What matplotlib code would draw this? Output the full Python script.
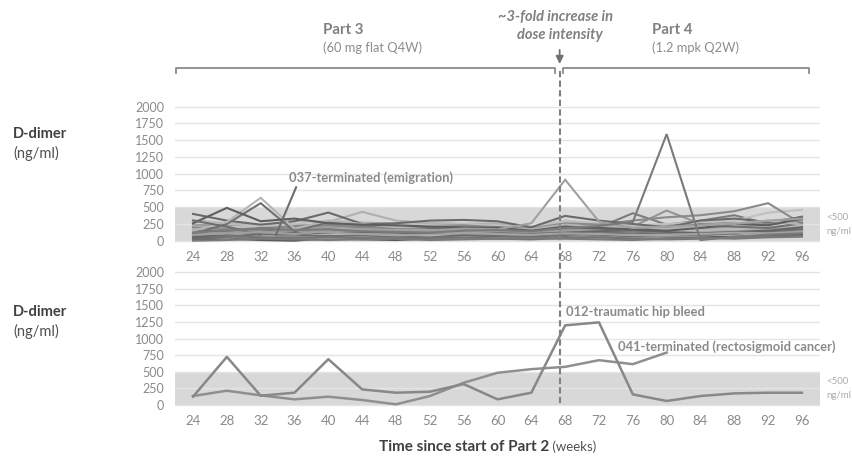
import numpy as np
import matplotlib
matplotlib.use('Agg')
import matplotlib.pyplot as plt
from matplotlib.transforms import blended_transform_factory
from matplotlib.lines import Line2D

plt.rcParams['font.family'] = ['Lato', 'DejaVu Sans']

W, H = 852, 457
nan = np.nan

# Semanas (eixo x)
weeks = [24, 28, 32, 36, 40, 44, 48, 52, 56, 60, 64, 68, 72, 76, 80, 84, 88, 92, 96]
y_ticks = [0, 250, 500, 750, 1000, 1250, 1500, 1750, 2000]
normal_limit = 500

# Painel superior: D-dimer de cada paciente (ng/ml)
p01 = [120, 150, 180, 160, 170, 140, 130, 120, 150, 160, 140, 190, 220, 280, 1590, 10, 60, 90, 110]
p02 = [90, 110, 130, 100, 150, 170, 160, 150, 180, 170, 260, 910, 285, 190, 210, 230, 250, 300, 330]
p03 = [260, 490, 290, 330, 260, 240, 230, 210, 200, 190, 150, 210, 190, 170, 150, 190, 250, 230, 330]
p04 = [150, 280, 640, 180, 300, 250, 200, 220, 200, 180, 170, 240, 200, 210, 180, 220, 260, 300, 240]
p05 = [100, 250, 560, 140, 280, 230, 210, 190, 170, 200, 160, 200, 180, 160, 200, 240, 210, 190, 260]
p06 = [200, 180, 160, 220, 240, 210, 200, 220, 230, 200, 180, 260, 240, 300, 350, 380, 440, 560, 250]
p07 = [180, 200, 220, 250, 300, 280, 240, 230, 250, 220, 200, 300, 260, 230, 250, 280, 300, 420, 460]
p08 = [400, 300, 240, 290, 420, 250, 260, 300, 310, 290, 200, 370, 300, 250, 200, 300, 330, 280, 350]
p09 = [120, 180, 200, 300, 280, 430, 300, 260, 250, 260, 200, 300, 240, 190, 230, 220, 260, 280, 300]
p10 = [140, 160, 190, 210, 230, 200, 190, 210, 220, 200, 180, 220, 200, 410, 240, 300, 380, 250, 360]
p11 = [90, 110, 130, 150, 140, 160, 150, 140, 160, 150, 140, 180, 200, 210, 450, 250, 270, 240, 300]
p12 = [20, 30, 10, 0, 40, 20, 10, 30, 40, 60, 50, 70, 90, 60, 40, 50, 60, 80, 90]
p13 = [60, 40, 80, 60, 30, 50, 40, 20, 30, 40, 60, 80, 60, 40, 60, 80, 100, 120, 140]
p14 = [110, 90, 60, 120, 140, 120, 90, 110, 130, 100, 90, 130, 110, 100, 120, 140, 150, 170, 190]
p15 = [30, 60, 100, 90, 70, 80, 60, 50, 80, 70, 60, 90, 110, 120, 100, 90, 110, 140, 170]
p16 = [200, 240, 180, 160, 190, 210, 230, 260, 250, 230, 210, 250, 230, 200, 190, 210, 230, 250, 270]
p17 = [160, 130, 110, 140, 170, 150, 130, 160, 180, 170, 150, 170, 150, 130, 160, 180, 200, 190, 220]
p18 = [240, 220, 200, 180, 200, 190, 170, 150, 140, 130, 120, 150, 170, 190, 210, 230, 200, 180, 210]
p19 = [80, 70, 50, 40, 60, 40, 30, 40, 50, 30, 20, 40, 50, 30, 20, 30, 50, 60, 70]
p20 = [310, 260, 230, 240, 220, 200, 190, 180, 200, 210, 190, 230, 210, 190, 170, 160, 180, 200, 230]
p21 = [50, 100, 150, 130, 110, 130, 120, 100, 90, 110, 100, 120, 140, 160, 130, 110, 130, 150, 200]
p22 = [nan, nan, 200, 150, 120, 100, 80, 90, 110, 100, 90, 110, 100, 80, 90, 100, 120, 110, 130]
p23 = [0, 10, 30, 20, 10, 20, 30, 10, 20, 30, 40, 30, 20, 10, 30, 40, 30, 50, 60]
p037 = [300, 210, 90, nan, nan, nan, nan, nan, nan, nan, nan, nan, nan, nan, nan, nan, nan, nan, nan]

top_series = [p12, p13, p14, p15, p16, p17, p18, p19, p20, p21, p22, p23,
              p09, p10, p11, p07, p06, p08, p05, p04, p03, p037, p02, p01]
top_colors = ['#5a5a5a', '#8f8f8f', '#a8a8a8', '#6e6e6e', '#bdbdbd', '#838383',
              '#9d9d9d', '#747474', '#b8b8b8', '#666666', '#a3a3a3', '#7a7a7a',
              '#b0b0b0', '#7c7c7c', '#959595', '#c0c0c0', '#8a8a8a', '#6a6a6a',
              '#707070', '#b5b5b5', '#5e5e5e', '#6d6d6d', '#a0a0a0', '#7a7a7a']

# Painel inferior: pacientes com eventos
p041 = [135, 215, 145, 85, 125, 75, 10, 135, 335, 485, 540, 575, 675, 615, 790, nan, nan, nan, nan]
p012 = [125, 725, 140, 185, 690, 235, 185, 200, 315, 85, 185, 1200, 1245, 160, 60, 135, 175, 185, 185]

dose_change_week = 67.35


def fy(ypx):
    return 1 - ypx / H


fig = plt.figure(figsize=(W / 100, H / 100), dpi=100)
ax1 = fig.add_axes([175 / W, fy(244.05), 645 / W, 139.35 / H])
ax2 = fig.add_axes([175 / W, fy(408.3), 645 / W, 138.0 / H])

for ax in (ax1, ax2):
    ax.set_xlim(21.87, 98.13)
    ax.set_ylim(-50, 2030)
    ax.axhspan(0, normal_limit, color='#d8d8d8', zorder=0.5, lw=0)
    for yv in y_ticks:
        ax.axhline(yv, color='#e4e4e4', lw=1, zorder=1)
    for s in ax.spines.values():
        s.set_visible(False)
    ax.set_xticks(weeks)
    ax.set_yticks(y_ticks)
    ax.tick_params(axis='x', length=0, pad=5, labelsize=9.5, labelcolor='#8a8a8a')
    ax.tick_params(axis='y', length=0, pad=7.7, labelsize=9, labelcolor='#8a8a8a')

for vals, c in zip(top_series, top_colors):
    ax1.plot(weeks, vals, color=c, lw=1.5, zorder=3, solid_joinstyle='miter')

# Linha guia do paciente 037
ax1.annotate('', xy=(33.8, 85), xytext=(36.2, 800),
             arrowprops=dict(arrowstyle='-', color='#6d6d6d', lw=1.5, shrinkA=0, shrinkB=0),
             zorder=4)
ax1.text(35.4, 940, '037-terminated (emigration)', fontsize=9.3, fontweight='bold',
         color='#8a8a8a', va='center', ha='left', zorder=5)

ax2.plot(weeks, p041, color='#8f8f8f', lw=1.8, zorder=3)
ax2.plot(weeks, p012, color='#888888', lw=1.8, zorder=3)
ax2.text(68.1, 1398, '012-traumatic hip bleed', fontsize=9.3, fontweight='bold',
         color='#8a8a8a', va='center', ha='left', zorder=5)
ax2.text(74.2, 872, '041-terminated (rectosigmoid cancer)', fontsize=9.3, fontweight='bold',
         color='#8a8a8a', va='center', ha='left', zorder=5)

# Textos "<500 ng/ml"
for y1, y2 in [(217.7, 231), (381.7, 396)]:
    fig.text(826 / W, fy(y1), '<500', fontsize=7, color='#ababab', va='center', ha='left')
    fig.text(826 / W, fy(y2), 'ng/ml', fontsize=7, color='#ababab', va='center', ha='left')

# Rótulos do eixo y
for y1, y2 in [(134, 153), (312, 331)]:
    fig.text(13 / W, fy(y1), 'D-dimer', fontsize=10.5, fontweight='bold', color='#404040',
             va='center', ha='left')
    fig.text(13 / W, fy(y2), '(ng/ml)', fontsize=10.5, color='#505050', va='center', ha='left')

# Linha tracejada e colchetes
tr = blended_transform_factory(ax1.transData, fig.transFigure)
fig.add_artist(Line2D([dose_change_week, dose_change_week], [fy(71), fy(405)], transform=tr,
                      color='#808080', lw=1.5, dashes=(3, 1.6)))
bracket = dict(transform=tr, color='#8a8a8a', lw=1.3)
fig.add_artist(Line2D([21.95, 21.95, 66.84, 66.84], [fy(73), fy(67.5), fy(67.5), fy(73)], **bracket))
fig.add_artist(Line2D([67.8, 67.8, 96.8, 96.8], [fy(73), fy(67.5), fy(67.5), fy(73)], **bracket))

ax1.annotate('', xy=(dose_change_week, fy(64)), xycoords=tr,
             xytext=(dose_change_week, fy(50)), textcoords=tr,
             arrowprops=dict(arrowstyle='-|>,head_width=0.22,head_length=0.45',
                             color='#707070', lw=1.3, shrinkA=0, shrinkB=0))

fig.text(556 / W, fy(16.7), '~3-fold increase in', fontsize=10.5, fontweight='bold',
         style='italic', color='#808080', ha='center', va='center')
fig.text(559.5 / W, fy(35), 'dose intensity', fontsize=10.5, fontweight='bold',
         style='italic', color='#808080', ha='center', va='center')

fig.text(323 / W, fy(30), 'Part 3', fontsize=10.8, fontweight='bold', color='#808080',
         ha='left', va='center')
fig.text(323 / W, fy(48), '(60 mg flat Q4W)', fontsize=9.3, color='#8c8c8c',
         ha='left', va='center')
fig.text(652 / W, fy(30), 'Part 4', fontsize=10.8, fontweight='bold', color='#808080',
         ha='left', va='center')
fig.text(652 / W, fy(48), '(1.2 mpk Q2W)', fontsize=9.3, color='#8c8c8c',
         ha='left', va='center')

# Título do eixo x (parte em negrito + parte normal)
renderer = fig.canvas.get_renderer()
t1 = fig.text(0, fy(447), 'Time since start of Part 2', fontsize=11, fontweight='bold',
              color='#404040', ha='left', va='center')
t2 = fig.text(0, fy(447), ' (weeks)', fontsize=9.5, color='#505050', ha='left', va='center')
w1 = t1.get_window_extent(renderer).width
w2 = t2.get_window_extent(renderer).width
x0 = 487.7 - (w1 + w2) / 2
t1.set_x(x0 / W)
t2.set_x((x0 + w1) / W)

fig.savefig('out.png', dpi=100)
